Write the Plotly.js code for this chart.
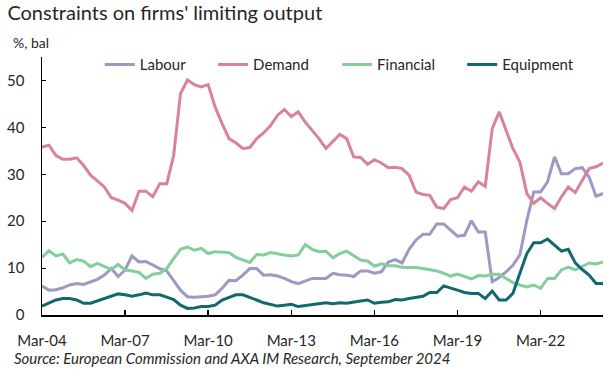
<!DOCTYPE html>
<html>
<head>
<meta charset="utf-8">
<script src="https://cdn.plot.ly/plotly-3.0.1.min.js"></script>
<style>
  html, body { margin: 0; padding: 0; background: #fff; }
  #chart { width: 615px; height: 379px; }
</style>
</head>
<body>
<div id="chart"></div>
<script>
// Quarterly observations, Mar-04 to Jun-24
const startYear = 2004;
const nPoints = 82;
const quarters = [];
for (let i = 0; i < nPoints; i++) {
  const y = startYear + Math.floor(i / 4);
  const m = 3 + 3 * (i % 4);
  quarters.push(y + '-' + String(m).padStart(2, '0') + '-01');
}

const labour = [6.2,5.3,5.4,5.8,6.4,6.7,6.5,7.1,7.6,8.5,
  9.9,8.2,9.6,12.6,11.3,11.4,10.6,9.9,9.4,7.4,
  5.3,3.9,3.8,3.9,4.0,4.3,5.7,7.4,7.3,8.5,
  9.9,9.9,8.5,8.6,8.3,7.8,7.1,6.7,7.3,7.8,
  7.8,7.8,8.9,8.6,8.5,8.2,9.4,9.4,8.9,9.2,
  11.3,11.8,11.1,14.0,16.0,17.2,17.2,19.4,19.4,18.1,
  16.8,17.0,20.1,17.7,17.7,7.1,8.0,9.2,10.6,12.8,
  20.2,26.2,26.2,28.4,33.7,30.1,30.1,31.2,31.4,29.4,
  25.3,25.9];

const demand = [35.8,36.2,34.0,33.2,33.2,33.5,31.9,29.8,28.6,27.3,
  25.0,24.5,23.8,22.3,26.4,26.4,25.2,28.0,28.0,34.0,
  47.2,50.1,49.1,48.6,49.1,44.3,40.8,37.6,36.7,35.5,
  35.7,37.6,38.8,40.4,42.6,43.8,42.3,43.3,41.1,39.4,
  37.6,35.5,36.9,38.5,37.6,33.7,33.6,32.1,33.1,32.4,
  31.4,31.5,31.2,29.8,26.2,25.7,25.5,23.0,22.7,24.6,
  25.0,27.3,26.4,28.4,27.4,39.7,43.3,39.4,35.5,32.6,
  25.9,23.8,25.0,23.8,22.7,25.2,27.3,26.1,28.7,31.2,
  31.6,32.4];

const financial = [12.3,13.7,12.6,13.0,11.1,11.8,11.5,10.3,11.0,10.4,
  9.7,10.8,9.6,9.4,9.1,7.8,8.7,8.9,9.9,12.0,
  14.0,14.5,13.8,14.2,13.1,13.5,13.4,13.3,12.3,11.7,
  11.2,12.9,12.8,13.3,13.0,12.8,12.6,12.8,15.0,14.0,
  13.5,13.6,12.2,13.1,13.6,12.6,11.7,11.5,10.4,10.9,
  10.5,10.5,10.2,10.1,10.1,9.9,9.7,9.4,8.9,8.3,
  8.7,8.2,7.7,8.4,8.3,8.7,8.7,7.8,6.9,6.4,
  6.0,6.4,5.7,7.8,7.8,9.6,10.2,9.6,10.3,11.1,
  10.9,11.3];

const equipment = [1.9,2.6,3.2,3.5,3.5,3.2,2.5,2.5,3.0,3.5,
  3.9,4.5,4.3,4.0,4.3,4.7,4.3,4.3,3.8,3.3,
  2.1,1.4,1.5,1.8,1.8,2.1,3.2,3.7,4.3,4.3,
  3.8,3.2,2.6,2.3,1.9,2.1,2.3,1.8,2.0,2.3,
  2.5,2.6,2.4,2.6,2.5,2.8,3.0,3.2,2.5,2.7,
  2.8,3.3,3.2,3.5,3.8,4.0,4.8,4.8,6.2,5.8,
  5.3,4.8,4.6,4.6,3.5,5.1,3.2,3.2,4.6,8.9,
  13.1,15.4,15.4,16.2,14.9,13.6,14.0,11.1,9.7,8.5,
  6.7,6.7];

const seriesNames = ['Labour', 'Demand', 'Financial', 'Equipment'];
const seriesData = [labour, demand, financial, equipment];
const colors = ['#9d98c4', '#d9829f', '#82cf9d', '#11696f'];
const legendIds = ['legend', 'legend2', 'legend3', 'legend4'];
const legendX = [0.103, 0.305, 0.526, 0.749];

const font = 'Lato, "Open Sans", sans-serif';
const txt = '#262626';

const traces = seriesData.map((d, k) => ({
  x: quarters,
  y: d,
  name: seriesNames[k],
  type: 'scatter',
  mode: 'lines',
  line: { color: colors[k], width: 3 },
  legend: legendIds[k],
  showlegend: true,
  hoverinfo: 'skip'
}));

const layout = {
  width: 615,
  height: 379,
  showlegend: true,
  margin: { l: 42, r: 12, t: 57, b: 64, autoexpand: false },
  paper_bgcolor: '#ffffff',
  plot_bgcolor: '#ffffff',
  font: { family: font, color: txt, size: 15 },
  title: {
    text: "Constraints on firms' limiting output",
    x: 0.012, xanchor: 'left', xref: 'container',
    y: 0.985, yanchor: 'top', yref: 'container',
    font: { family: font, size: 20, color: txt }
  },
  xaxis: {
    type: 'date',
    range: [quarters[0], quarters[nPoints - 1]],
    tick0: '2004-03-01',
    dtick: 'M36',
    tickformat: '%b-%y',
    ticks: 'inside',
    ticklen: 5,
    tickwidth: 1.5,
    tickcolor: '#000',
    ticklabelstandoff: 11,
    showline: true,
    linecolor: '#000',
    linewidth: 1.5,
    showgrid: false,
    zeroline: false,
    automargin: false,
    tickfont: { family: font, size: 15, color: txt }
  },
  yaxis: {
    range: [0, 55],
    tick0: 0,
    dtick: 10,
    ticks: 'inside',
    ticklen: 4,
    tickwidth: 1,
    tickcolor: '#000',
    ticklabelstandoff: 13,
    showline: true,
    linecolor: '#000',
    linewidth: 1.5,
    showgrid: false,
    zeroline: false,
    automargin: false,
    tickfont: { family: font, size: 15, color: txt }
  },
  annotations: [
    { text: '%, bal', xref: 'paper', yref: 'paper', x: -0.055, y: 1.058,
      xanchor: 'left', yanchor: 'middle', showarrow: false,
      font: { family: font, size: 14, color: txt } },
    { text: 'Source: European Commission and AXA IM Research, September 2024',
      xref: 'paper', yref: 'paper', x: -0.053, y: -0.167,
      xanchor: 'left', yanchor: 'middle', showarrow: false,
      font: { family: font, size: 15, color: txt, style: 'italic' } }
  ]
};

legendIds.forEach((id, k) => {
  layout[id] = {
    orientation: 'h',
    x: legendX[k], xanchor: 'left',
    y: 0.97, yanchor: 'middle',
    bgcolor: 'rgba(0,0,0,0)',
    borderwidth: 0,
    font: { family: font, size: 15, color: txt }
  };
});

Plotly.newPlot('chart', traces, layout, { displayModeBar: false, staticPlot: true });
</script>
</body>
</html>
